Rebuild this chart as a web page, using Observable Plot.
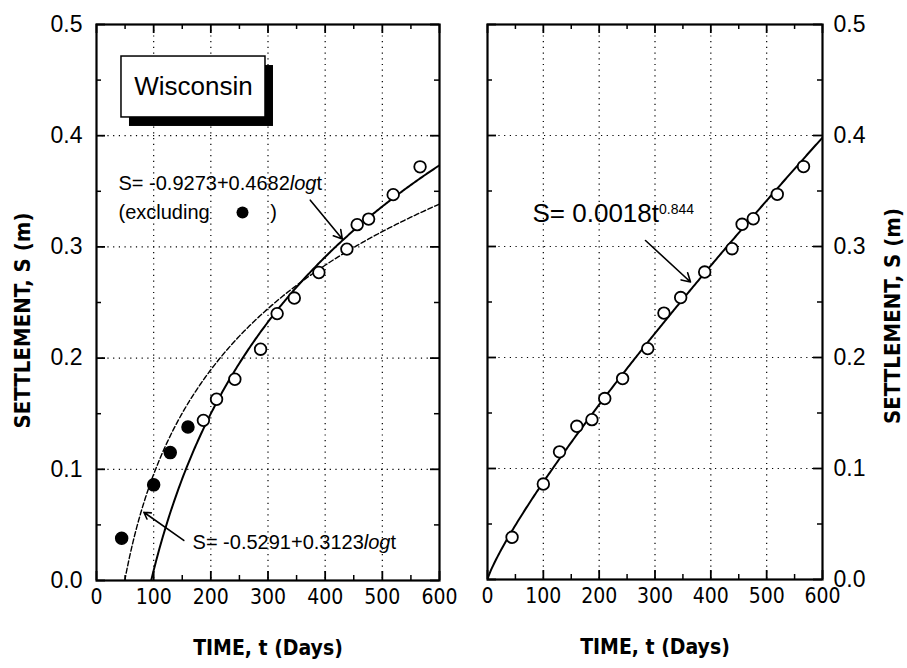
<!DOCTYPE html>
<html>
<head>
<meta charset="utf-8">
<script src="https://cdn.jsdelivr.net/npm/d3@7"></script>
<script src="https://cdn.jsdelivr.net/npm/@observablehq/plot@0.6"></script>
<style>
  html, body { margin: 0; padding: 0; background: white; }
  #wrap { display: flex; width: 907px; height: 668px; }
  svg { display: block; }
</style>
</head>
<body>
<div id="wrap"></div>
<script>
// ---- data ----
const siteName = "Wisconsin";
// early points (filled, excluded from the log fit)
const earlyTime = [44, 100, 129, 160];
const earlySettlement = [0.038, 0.086, 0.115, 0.138];
// later points (open circles)
const lateTime = [187, 210, 242, 287, 316, 346, 389, 438, 456, 476, 519, 566];
const lateSettlement = [0.144, 0.163, 0.181, 0.208, 0.240, 0.254, 0.277, 0.298, 0.320, 0.325, 0.347, 0.372];
// fitted equations printed on the chart
const fitLogExcl = {a: -0.9273, b: 0.4682};   // S = a + b log t  (excluding filled points)
const fitLogAll  = {a: -0.5291, b: 0.3123};   // S = a + b log t
const fitPower   = {c: 0.0018, n: 0.844};     // S = c t^n
// axes
const timeTicks = [0, 100, 200, 300, 400, 500, 600];
const timeMinor = [50, 150, 250, 350, 450, 550];
const settleTicks = [0, 0.1, 0.2, 0.3, 0.4, 0.5];
const settleMinor = [0.05, 0.15, 0.25, 0.35, 0.45];
const timeGrid = [100, 200, 300, 400, 500];
const settleGrid = [0.1, 0.2, 0.3, 0.4];
const xTitle = "TIME, t (Days)";
const yTitle = "SETTLEMENT, S (m)";

const early = earlyTime.map((t, i) => ({t, s: earlySettlement[i]}));
const late = lateTime.map((t, i) => ({t, s: lateSettlement[i]}));
const all = early.concat(late);

function logCurve(f) {
  const t0 = Math.pow(10, -f.a / f.b);
  const ts = [t0].concat(d3.range(Math.ceil(t0), 601, 2));
  return ts.map(t => ({t, s: f.a + f.b * Math.log10(t)}));
}
const curveExcl = logCurve(fitLogExcl);
const curveAll = logCurve(fitLogAll);
const curvePow = d3.range(0, 601, 2).map(t => ({t, s: fitPower.c * Math.pow(t, fitPower.n)}));

const SANS = "'Liberation Sans', Arial, Helvetica, sans-serif";
const NARROW = "'Liberation Sans Narrow', 'Arial Narrow', 'DejaVu Sans Condensed', 'Liberation Sans', sans-serif";

function frameMarks(fw, fh) {
  const maj = 9, min = 5;
  return [
    Plot.gridX(timeGrid, {stroke: "black", strokeOpacity: 1, strokeWidth: 1.2, strokeDasharray: "1.2,4.5"}),
    Plot.gridY(settleGrid, {stroke: "black", strokeOpacity: 1, strokeWidth: 1.2, strokeDasharray: "1.2,4.5"}),
    // inward ticks on four sides
    Plot.tickX(timeTicks, {x: d => d, insetTop: fh - maj, strokeWidth: 1.8}),
    Plot.tickX(timeMinor, {x: d => d, insetTop: fh - min, strokeWidth: 1.5}),
    Plot.tickX(timeTicks, {x: d => d, insetBottom: fh - maj, strokeWidth: 1.8}),
    Plot.tickX(timeMinor, {x: d => d, insetBottom: fh - min, strokeWidth: 1.5}),
    Plot.tickY(settleTicks, {y: d => d, insetRight: fw - maj, strokeWidth: 1.8}),
    Plot.tickY(settleMinor, {y: d => d, insetRight: fw - min, strokeWidth: 1.5}),
    Plot.tickY(settleTicks, {y: d => d, insetLeft: fw - maj, strokeWidth: 1.8}),
    Plot.tickY(settleMinor, {y: d => d, insetLeft: fw - min, strokeWidth: 1.5}),
  ];
}

// ---------- LEFT PANEL ----------
const L = {width: 470, height: 668, ml: 96, mr: 31, mt: 24, mb: 88};
const Lfw = L.width - L.ml - L.mr, Lfh = L.height - L.mt - L.mb;
const left = Plot.plot({
  width: L.width, height: L.height,
  marginLeft: L.ml, marginRight: L.mr, marginTop: L.mt, marginBottom: L.mb,
  x: {domain: [0, 600]},
  y: {domain: [0, 0.5]},
  style: {fontFamily: SANS, color: "black", background: "white", overflow: "visible"},
  marks: [
    ...frameMarks(Lfw, Lfh),
    // legend box with shadow
    Plot.rect([{x1: 43.7, x2: 295.6, y1: 0.4164, y2: 0.4712}], {x1: "x1", x2: "x2", y1: "y1", y2: "y2", fill: "black", dx: 8, dy: 9}),
    Plot.rect([{x1: 43.7, x2: 295.6, y1: 0.4164, y2: 0.4712}], {x1: "x1", x2: "x2", y1: "y1", y2: "y2", fill: "white", stroke: "black", strokeWidth: 1.5}),
    Plot.text([siteName], {x: 169.6, y: 0.4445, text: d => d, fontSize: 26, fontFamily: SANS, textAnchor: "middle"}),
    // fitted curves
    Plot.line(curveAll, {x: "t", y: "s", stroke: "black", strokeWidth: 1.4, strokeDasharray: "5,2.5", clip: true}),
    Plot.line(curveExcl, {x: "t", y: "s", stroke: "black", strokeWidth: 2, clip: true}),
    // data points
    Plot.dot(early, {x: "t", y: "s", r: 6, fill: "black", stroke: "black"}),
    Plot.dot(late, {x: "t", y: "s", r: 5.8, fill: "white", stroke: "black", strokeWidth: 1.8}),
    // annotations
    Plot.text(["S= -0.9273+0.4682logt"], {x: 38.5, y: 0.357, text: d => d, textAnchor: "start", fontSize: 20, fontFamily: SANS, className: "eq"}),
    Plot.text(["(excluding"], {x: 38.5, y: 0.331, text: d => d, textAnchor: "start", fontSize: 20, fontFamily: SANS}),
    Plot.dot([0], {x: 255.4, y: 0.331, r: 6, fill: "black"}),
    Plot.text([")"], {x: 309.6, y: 0.331, text: d => d, fontSize: 20, fontFamily: SANS}),
    Plot.arrow([0], {x1: 374, y1: 0.342, x2: 430, y2: 0.307, stroke: "black", strokeWidth: 1.6, headLength: 9}),
    Plot.text(["S= -0.5291+0.3123logt"], {x: 168, y: 0.034, text: d => d, textAnchor: "start", fontSize: 20, fontFamily: SANS, className: "eq"}),
    Plot.arrow([0], {x1: 152.7, y1: 0.036, x2: 82.8, y2: 0.0614, stroke: "black", strokeWidth: 1.6, headLength: 7}),
    // axes
    Plot.axisX(timeTicks, {tickSize: 0, tickPadding: 9, fontSize: 21, fontFamily: NARROW, label: null, tickFormat: d => String(d)}),
    Plot.axisY(settleTicks, {tickSize: 0, tickPadding: 14, fontSize: 23, fontFamily: SANS, label: null, tickFormat: d3.format(".1f")}),
    Plot.text([xTitle], {frameAnchor: "bottom", dy: 68, lineAnchor: "middle", textAnchor: "middle", text: d => d, fontSize: 21, fontWeight: "bold", fontFamily: NARROW}),
    Plot.text([yTitle], {frameAnchor: "left", dx: -74, dy: 18, rotate: -90, textAnchor: "middle", lineAnchor: "middle", text: d => d, fontSize: 22, fontWeight: "bold", fontFamily: NARROW}),
    Plot.frame({stroke: "black", strokeWidth: 2.2})
  ]
});

// ---------- RIGHT PANEL ----------
const R = {width: 437, height: 668, ml: 17, mr: 85, mt: 24, mb: 89};
const Rfw = R.width - R.ml - R.mr, Rfh = R.height - R.mt - R.mb;
const right = Plot.plot({
  width: R.width, height: R.height,
  marginLeft: R.ml, marginRight: R.mr, marginTop: R.mt, marginBottom: R.mb,
  x: {domain: [0, 600]},
  y: {domain: [0, 0.5]},
  style: {fontFamily: SANS, color: "black", background: "white", overflow: "visible"},
  marks: [
    ...frameMarks(Rfw, Rfh),
    Plot.line(curvePow, {x: "t", y: "s", stroke: "black", strokeWidth: 2, clip: true}),
    Plot.dot(all, {x: "t", y: "s", r: 5.8, fill: "white", stroke: "black", strokeWidth: 1.8}),
    Plot.text(["S= 0.0018t^0.844"], {x: 80.6, y: 0.33, text: d => d, textAnchor: "start", fontSize: 26, fontFamily: SANS, className: "pw"}),
    Plot.arrow([0], {x1: 283, y1: 0.3054, x2: 363.6, y2: 0.268, stroke: "black", strokeWidth: 1.6, headLength: 9}),
    Plot.axisX(timeTicks, {tickSize: 0, tickPadding: 9, fontSize: 21, fontFamily: NARROW, label: null, tickFormat: d => String(d)}),
    Plot.axisY(settleTicks, {anchor: "right", tickSize: 0, tickPadding: 11, fontSize: 23, fontFamily: SANS, label: null, tickFormat: d3.format(".1f")}),
    Plot.text([xTitle], {frameAnchor: "bottom", dy: 68, lineAnchor: "middle", textAnchor: "middle", text: d => d, fontSize: 21, fontWeight: "bold", fontFamily: NARROW}),
    Plot.text([yTitle], {frameAnchor: "right", dx: 70, dy: 14, rotate: -90, textAnchor: "middle", lineAnchor: "middle", text: d => d, fontSize: 22, fontWeight: "bold", fontFamily: NARROW}),
    Plot.frame({stroke: "black", strokeWidth: 2.2})
  ]
});

// rich text: italic "log" and superscript exponent
d3.select(left).selectAll("text").each(function() {
  const s = this.textContent;
  if (s.endsWith("logt") && this.childElementCount === 0) {
    const pre = s.slice(0, -4);
    this.textContent = "";
    const el = d3.select(this);
    el.append("tspan").text(pre);
    el.append("tspan").attr("font-style", "italic").text("log");
    el.append("tspan").text("t");
  }
});
d3.select(right).selectAll("text").each(function() {
  const s = this.textContent;
  if (s.includes("^") && this.childElementCount === 0) {
    const [base, exp] = s.split("^");
    this.textContent = "";
    const el = d3.select(this);
    el.append("tspan").text(base);
    el.append("tspan").attr("font-size", 14).attr("dy", "-0.55em").text(exp);
  }
});

document.getElementById("wrap").append(left, right);
</script>
</body>
</html>
